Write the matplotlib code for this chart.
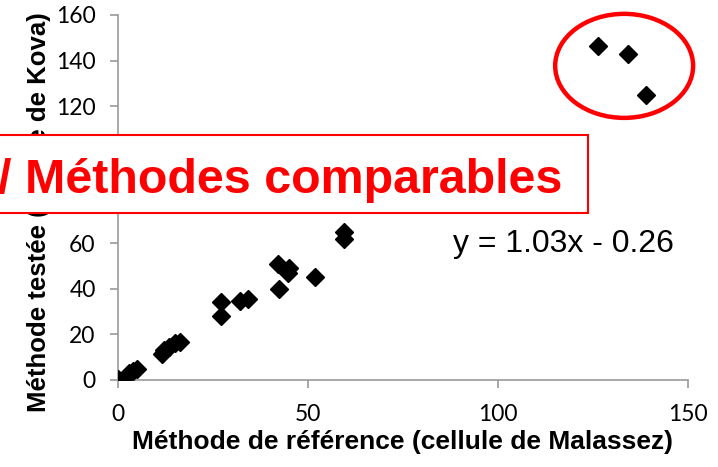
import matplotlib.pyplot as plt
from matplotlib.patches import Ellipse, Rectangle

# Valeurs
ref_x = [0, 3, 4, 5, 11.5, 12, 13.5, 15, 16.3, 27, 27, 32, 34.3,
         42, 42.5, 45, 44.8, 51.8, 59.6, 59.6, 126.4, 134.3, 138.9]
kova_y = [0.3, 3, 4, 5, 11.5, 13, 14.5, 16, 16.5, 28, 34, 34.5, 35.5,
          50.7, 40, 49, 47, 45.3, 65, 62, 146.6, 143, 125]

x_ticks = [0, 50, 100, 150]
y_ticks = [0, 20, 40, 60, 80, 100, 120, 140, 160]
equation = "y = 1.03x - 0.26"
title_box = "/ Méthodes comparables"

fig = plt.figure(figsize=(7.18, 4.67), dpi=100)
ax = fig.add_axes([0.1643, 0.1863, 0.7939, 0.7816])

ax.plot(ref_x, kova_y, linestyle="none", marker="D", markersize=9,
        color="black", zorder=3)

ax.set_xlim(0, 150)
ax.set_ylim(0, 160)
ax.set_xticks(x_ticks)
ax.set_yticks(y_ticks)

for side in ["top", "right"]:
    ax.spines[side].set_visible(False)
for side in ["left", "bottom"]:
    ax.spines[side].set_color("#9a9a9a")
    ax.spines[side].set_linewidth(1.2)
ax.tick_params(axis="both", direction="out", length=6, width=1.2,
               color="#9a9a9a", labelsize=16.5)
ax.tick_params(axis="y", pad=10)
ax.tick_params(axis="x", pad=11)
for lab in ax.get_xticklabels() + ax.get_yticklabels():
    lab.set_fontfamily("Lato")

ax.set_xlabel("Méthode de référence (cellule de Malassez)", fontsize=19,
              fontweight="bold", family="Liberation Sans", labelpad=4)
ax.set_ylabel("Méthode testée (cellule de Kova)", fontsize=18.5,
              fontweight="bold", family="Liberation Sans")
ax.yaxis.set_label_coords(-0.118, 0.46)

ax.text(453 / 718, (467 - 244) / 467, equation, transform=fig.transFigure,
        fontsize=23, family="Liberation Sans", va="center", ha="left")

# ellipse autour des points aberrants
ell = Ellipse((133.2, 137.7), 36.3, 45.6, fill=False, edgecolor="red",
              linewidth=3.2, clip_on=False, zorder=4)
ax.add_patch(ell)

# cadre rouge avec texte
box = Rectangle((-0.01, (467 - 213) / 467), 588 / 718 + 0.01, 78 / 467,
                transform=fig.transFigure, facecolor="white",
                edgecolor="red", linewidth=1.5, zorder=5)
fig.patches.append(box)
fig.text(-2 / 718, (467 - 193) / 467, title_box, color="red", fontsize=34.8,
         fontweight="bold", family="Liberation Sans", va="baseline",
         ha="left", zorder=6)

fig.savefig("out.png", dpi=100)
